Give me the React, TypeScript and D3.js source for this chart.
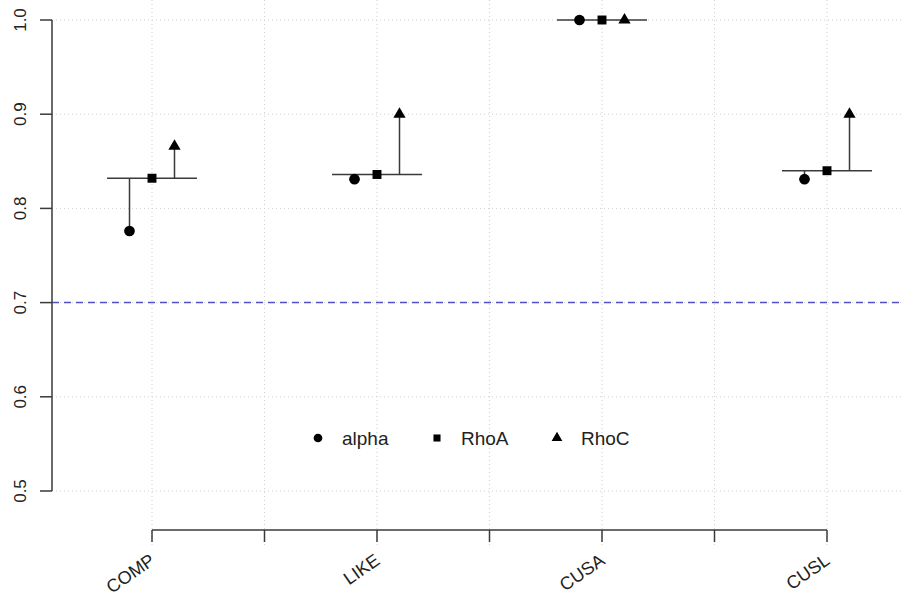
import React, { useEffect, useRef } from 'react';
import * as d3 from 'd3';

const categories = ['COMP', 'LIKE', 'CUSA', 'CUSL'];
const catPos = [1, 3, 5, 7];
const alpha = [0.776, 0.831, 1.0, 0.831];
const rhoA = [0.832, 0.836, 1.0, 0.84];
const rhoC = [0.866, 0.9, 1.0, 0.9];
const yTicks = [0.5, 0.6, 0.7, 0.8, 0.9, 1.0];
const xTicks = [1, 2, 3, 4, 5, 6, 7];
const threshold = 0.7;

const W = 902;
const H = 596;

const App = () => {
  const ref = useRef<SVGSVGElement>(null);

  useEffect(() => {
    const svg = d3.select(ref.current);
    svg.selectAll('*').remove();

    const x = d3.scaleLinear().domain([1, 7]).range([152, 827]);
    const y = d3.scaleLinear().domain([0.5, 1.0]).range([491, 20]);
    const font = 'Liberation Sans, Arial, sans-serif';
    const ink = '#3a3a3a';

    // grid
    const grid = svg.append('g').attr('stroke', '#cfcfcf').attr('stroke-width', 1).attr('stroke-dasharray', '1,3');
    grid.selectAll('.h').data(yTicks).enter().append('line')
      .attr('x1', 52).attr('x2', W)
      .attr('y1', d => y(d)).attr('y2', d => y(d));
    grid.selectAll('.v').data(xTicks).enter().append('line')
      .attr('x1', d => x(d)).attr('x2', d => x(d))
      .attr('y1', 0).attr('y2', 548);

    // threshold
    svg.append('line')
      .attr('x1', 52).attr('x2', W)
      .attr('y1', y(threshold)).attr('y2', y(threshold))
      .attr('stroke', '#5252c4').attr('stroke-width', 1.5)
      .attr('stroke-dasharray', '7,5');

    // y axis
    const ya = svg.append('g');
    ya.append('line').attr('x1', 52).attr('x2', 52).attr('y1', y(1.0)).attr('y2', y(0.5))
      .attr('stroke', ink).attr('stroke-width', 1.5);
    ya.selectAll('.t').data(yTicks).enter().append('line')
      .attr('x1', 40).attr('x2', 52).attr('y1', d => y(d)).attr('y2', d => y(d))
      .attr('stroke', ink).attr('stroke-width', 1.5);
    ya.selectAll('text').data(yTicks).enter().append('text')
      .attr('transform', d => `translate(26,${y(d)}) rotate(-90)`)
      .attr('text-anchor', 'middle')
      .attr('font-family', font).attr('font-size', 17).attr('fill', '#222')
      .text(d => d.toFixed(1));

    // x axis
    const xa = svg.append('g');
    xa.append('line').attr('x1', x(1)).attr('x2', x(7)).attr('y1', 530).attr('y2', 530)
      .attr('stroke', ink).attr('stroke-width', 1.5);
    xa.selectAll('.t').data(xTicks).enter().append('line')
      .attr('x1', d => x(d)).attr('x2', d => x(d)).attr('y1', 530).attr('y2', 542)
      .attr('stroke', ink).attr('stroke-width', 1.5);
    xa.selectAll('text').data(categories).enter().append('text')
      .attr('transform', (d, i) => `translate(${x(catPos[i]) + 4},${563}) rotate(-35)`)
      .attr('text-anchor', 'end')
      .attr('font-family', font).attr('font-size', 18).attr('fill', '#222')
      .text(d => d);

    const symCircle = d3.symbol().type(d3.symbolCircle);
    const symSquare = d3.symbol().type(d3.symbolSquare);
    const symTri = d3.symbol().type(d3.symbolTriangle);

    const g = svg.append('g');
    categories.forEach((c, i) => {
      const p = catPos[i];
      const base = y(rhoA[i]);
      g.append('line').attr('x1', x(p - 0.4)).attr('x2', x(p + 0.4)).attr('y1', base).attr('y2', base)
        .attr('stroke', ink).attr('stroke-width', 1.5);
      const pts = [
        { dx: -0.2, v: alpha[i], s: symCircle.size(90) },
        { dx: 0, v: rhoA[i], s: symSquare.size(80) },
        { dx: 0.2, v: rhoC[i], s: symTri.size(65) },
      ];
      pts.forEach(pt => {
        g.append('line').attr('x1', x(p + pt.dx)).attr('x2', x(p + pt.dx))
          .attr('y1', base).attr('y2', y(pt.v))
          .attr('stroke', ink).attr('stroke-width', 1.5);
        g.append('path').attr('d', pt.s()!)
          .attr('transform', `translate(${x(p + pt.dx)},${y(pt.v)})`)
          .attr('fill', '#000');
      });
    });

    // legend
    const legend = [
      { label: 'alpha', s: symCircle.size(60), x: 318 },
      { label: 'RhoA', s: symSquare.size(50), x: 437 },
      { label: 'RhoC', s: symTri.size(50), x: 557 },
    ];
    const lg = svg.append('g');
    legend.forEach(l => {
      lg.append('path').attr('d', l.s()!).attr('transform', `translate(${l.x},438)`).attr('fill', '#000');
      lg.append('text').attr('x', l.x + 24).attr('y', 445)
        .attr('font-family', font).attr('font-size', 19).attr('fill', '#222')
        .text(l.label);
    });
  }, []);

  return (
    <svg ref={ref} width={W} height={H} style={{ position: 'absolute', left: 0, top: 0, background: '#fff' }} />
  );
};

export default App;
